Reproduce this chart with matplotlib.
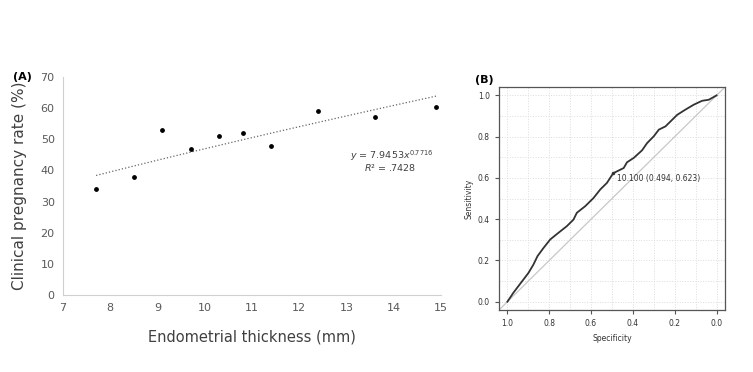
#!/usr/bin/env python3
""" Endometrial thickness vs pregnancy rate (A) and ROC curve (B). """

import numpy as np
import matplotlib.pyplot as plt

# panel A data
thickness = [7.7, 8.5, 9.1, 9.7, 10.3, 10.8, 11.4, 12.4, 13.6, 14.9]
preg_rate = [34, 38, 53, 47, 51, 52, 48, 59, 57, 60.5]
fit_a = 7.9453
fit_b = 0.7716

# panel B data (specificity, sensitivity)
spec = [1.0, 0.971, 0.947, 0.923, 0.899, 0.875, 0.856, 0.827, 0.795, 0.756,
        0.716, 0.684, 0.668, 0.628, 0.588, 0.556, 0.524, 0.494, 0.444, 0.428,
        0.396, 0.356, 0.332, 0.300, 0.276, 0.244, 0.220, 0.188, 0.149, 0.109,
        0.069, 0.037, 0.0]
sens = [0.0, 0.044, 0.076, 0.108, 0.140, 0.181, 0.221, 0.261, 0.302, 0.334,
        0.366, 0.398, 0.431, 0.463, 0.503, 0.544, 0.576, 0.623, 0.648, 0.676,
        0.697, 0.734, 0.769, 0.802, 0.834, 0.850, 0.874, 0.906, 0.931, 0.955,
        0.974, 0.979, 1.0]

fig = plt.figure(figsize=(7.53, 3.72), dpi=100)

# ---- panel A ----
ax = fig.add_axes([0.0837, 0.207, 0.502, 0.586])
ax.scatter(thickness, preg_rate, s=6, color="black", zorder=3)
xf = np.linspace(min(thickness), max(thickness), 100)
ax.plot(xf, fit_a * xf ** fit_b, color="#666666", linestyle=":", linewidth=0.9)
ax.set(xlim=(7, 15), ylim=(0, 70))
ax.set_xticks(range(7, 16))
ax.set_yticks(range(0, 71, 10))
for s in ["top", "right"]:
    ax.spines[s].set_visible(False)
for s in ["left", "bottom"]:
    ax.spines[s].set_color("#d0d0d0")
ax.tick_params(length=0, labelsize=8, labelcolor="#595959", pad=6)
ax.set_xlabel("Endometrial thickness (mm)", fontsize=10.5, color="#404040",
              labelpad=12)
ax.set_ylabel("Clinical pregnancy rate (%)", fontsize=11, color="#404040",
              labelpad=10)
ax.text(14.83, 44.8, "$y$ = 7.9453$x^{0.7716}$", fontsize=6.8, color="#404040",
        ha="right", va="center")
ax.text(14.47, 40.8, "$R$² = .7428", fontsize=6.8, color="#404040",
        ha="right", va="center")
fig.text(0.017, 0.793, "(A)", fontsize=8, fontweight="bold", va="center")

# ---- panel B ----
bx = fig.add_axes([0.6627, 0.1667, 0.300, 0.599])
bx.set(xlim=(1.04, -0.04), ylim=(-0.04, 1.04))
bx.set_xticks(np.arange(0, 1.01, 0.1), minor=True)
bx.set_yticks(np.arange(0, 1.01, 0.1), minor=True)
bx.set_xticks([1.0, 0.8, 0.6, 0.4, 0.2, 0.0])
bx.set_yticks([0.0, 0.2, 0.4, 0.6, 0.8, 1.0])
bx.grid(True, which="both", color="#dcdcdc", linestyle=":", linewidth=0.7)
bx.plot([1.04, -0.04], [-0.04, 1.04], color="#c8c8c8", linewidth=0.9)
bx.plot(spec, sens, color="#333333", linewidth=1.3)
bx.plot([0.494], [0.623], "o", color="#333333", markersize=1.5)
bx.text(0.476, 0.597, "10.100 (0.494, 0.623)", fontsize=5.5, color="#333333",
        ha="left", va="center")
for s in bx.spines.values():
    s.set_color("#555555")
    s.set_linewidth(0.9)
bx.tick_params(which="major", length=3, labelsize=5.5, color="#555555",
               labelcolor="#333333")
bx.tick_params(which="minor", length=0)
bx.set_xticklabels(["1.0", "0.8", "0.6", "0.4", "0.2", "0.0"])
bx.set_yticklabels(["0.0", "0.2", "0.4", "0.6", "0.8", "1.0"])
bx.set_xlabel("Specificity", fontsize=5.5, color="#333333", labelpad=4)
bx.set_ylabel("Sensitivity", fontsize=5.5, color="#333333", labelpad=3)
fig.text(0.631, 0.785, "(B)", fontsize=8, fontweight="bold", va="center")

fig.savefig("out.png", dpi=100)
